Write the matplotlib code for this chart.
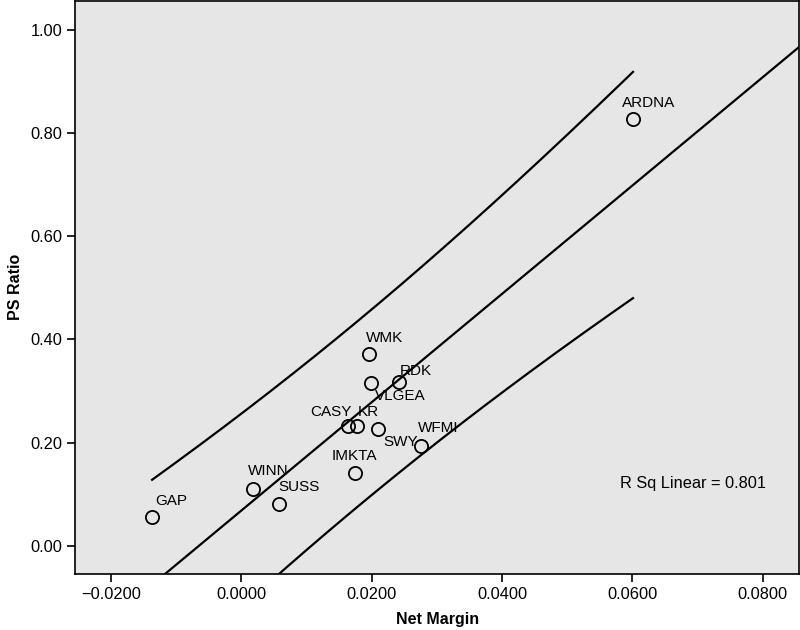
import numpy as np
import matplotlib.pyplot as plt

plt.rcParams['font.family'] = ['Liberation Sans', 'DejaVu Sans']

# company data
names = ["GAP", "WINN", "SUSS", "IMKTA", "CASY", "KR", "SWY", "WFMI",
         "VLGEA", "RDK", "WMK", "ARDNA"]
net_margin = [-0.0137, 0.0018, 0.0058, 0.0174, 0.0163, 0.0177, 0.0209, 0.0276,
              0.0199, 0.0242, 0.0196, 0.0601]
ps_ratio = [0.056, 0.110, 0.081, 0.141, 0.233, 0.233, 0.227, 0.194,
            0.315, 0.318, 0.372, 0.827]
r_sq_shown = 0.801

# label offsets in pixels (dx, dy) and horizontal alignment
label_pos = {
    "GAP": (3, 9, "left"), "WINN": (-5, 11, "left"), "SUSS": (-1, 10, "left"),
    "IMKTA": (0, 10, "center"), "CASY": (4, 7, "right"), "KR": (1, 7, "left"),
    "SWY": (6, -6, "left"), "WFMI": (-3, 11, "left"), "VLGEA": (4, -6, "left"),
    "RDK": (1, 4, "left"), "WMK": (-3, 9, "left"), "ARDNA": (-11, 9, "left"),
}

x = np.array(net_margin)
y = np.array(ps_ratio)
n = len(x)

# linear fit and 90% individual prediction interval
b1, b0 = np.polyfit(x, y, 1)
resid = y - (b0 + b1 * x)
s = np.sqrt(np.sum(resid ** 2) / (n - 2))
t_crit = 1.812  # t(0.95, df=10)
sxx = np.sum((x - x.mean()) ** 2)

xlim = (-0.0255, 0.0856)
ylim = (-0.054, 1.056)

fig = plt.figure(figsize=(8, 6.3), dpi=100)
ax = fig.add_axes([0.094, 0.089, 0.905, 0.910])
ax.set_facecolor("#e6e6e6")

xg = np.linspace(xlim[0], xlim[1], 200)
ax.plot(xg, b0 + b1 * xg, color="black", lw=1.6)

xi = np.linspace(x.min(), x.max(), 200)
half = t_crit * s * np.sqrt(1 + 1 / n + (xi - x.mean()) ** 2 / sxx)
ax.plot(xi, b0 + b1 * xi + half, color="black", lw=1.6)
ax.plot(xi, b0 + b1 * xi - half, color="black", lw=1.6)

ax.plot(x, y, "o", ms=9.5, mfc="none", mec="black", mew=1.3)

for name, xv, yv in zip(names, x, y):
    dx, dy, ha = label_pos[name]
    ax.annotate(name, (xv, yv), xytext=(dx, dy), textcoords="offset pixels",
                ha=ha, va="bottom" if dy > 0 else "top", fontsize=11)

ax.text(0.752, 0.158, "R Sq Linear = %.3f" % r_sq_shown, transform=ax.transAxes,
        fontsize=11.8, va="center", ha="left")

ax.set_xlim(xlim)
ax.set_ylim(ylim)
ax.set_xticks([-0.02, 0.0, 0.02, 0.04, 0.06, 0.08])
ax.set_xticklabels(["\u22120.0200", "0.0000", "0.0200", "0.0400", "0.0600", "0.0800"])
ax.set_yticks([0.0, 0.2, 0.4, 0.6, 0.8, 1.0])
ax.set_yticklabels(["0.00", "0.20", "0.40", "0.60", "0.80", "1.00"])
ax.tick_params(direction="out", length=6, width=1.2, labelsize=11.8)
for sp in ax.spines.values():
    sp.set_linewidth(1.2)

ax.set_xlabel("Net Margin", fontsize=11.5, fontweight="bold", labelpad=7)
ax.set_ylabel("PS Ratio", fontsize=11.5, fontweight="bold", labelpad=5)

fig.savefig("out.png", dpi=100)
